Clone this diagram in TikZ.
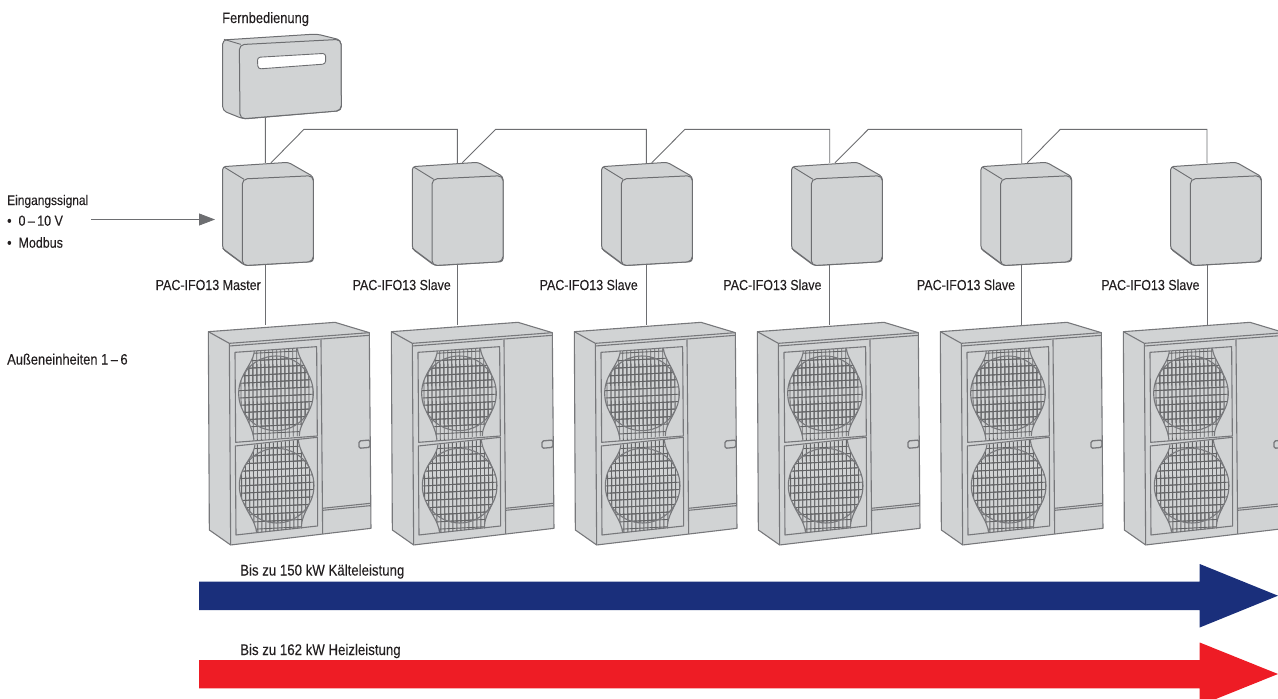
\documentclass[tikz,border=0pt]{standalone}
\usepackage{fontspec}
\setmainfont[FakeStretch=0.86,FakeBold=0.12]{Liberation Sans}
\usetikzlibrary{arrows.meta}
\definecolor{bodygrey}{HTML}{D1D3D4}
\definecolor{edgegrey}{HTML}{6D6E71}
\definecolor{unitgrey}{HTML}{77787B}
\definecolor{meshgrey}{HTML}{636466}
\definecolor{lab}{HTML}{231F20}
\definecolor{coolblue}{HTML}{1A2F7B}
\definecolor{heatred}{HTML}{EE1C25}
\tikzset{
  body/.style={draw=edgegrey,fill=bodygrey,line width=1pt,line join=round},
  edge/.style={draw=edgegrey,line width=.9pt,line join=round},
  uedge/.style={draw=unitgrey,line width=1.1pt,line join=round},
  mesh/.style={draw=meshgrey,line width=.9pt},
  link/.style={draw=edgegrey,line width=.9pt,line join=miter},
  lbl/.style={inner sep=0pt,text=lab,font=\fontsize{14.5}{17}\selectfont},
  lblsmall/.style={lbl,font=\fontsize{13.9}{17}\selectfont},
  lblbig/.style={lbl,font=\fontsize{15}{17}\selectfont},
  lblbis/.style={lbl,font=\fontsize{15.4}{17}\selectfont},
}
\newcommand{\fanmesh}{%
  \foreach \vx in {140,152,...,400} {\draw[mesh] (\vx,100) -- (\vx+4,700);}
  \foreach \hy in {105,127,...,700} {\draw[mesh] (130,\hy+6) -- (400,\hy-8);}
}
\newcommand{\fan}[2]{% centre x, centre y
  \begin{scope}\clip (#1,#2) circle[radius=112]; \fanmesh \end{scope}
  \draw[uedge] (#1,#2) circle[radius=112];
}
\newcommand{\outdoor}{%
  \fill[bodygrey] (55,65) -- (435,37) -- (538,68) -- (543,655) -- (122,705) -- (58,660) -- cycle;
  \draw[uedge] (55,65) -- (435,37) -- (538,68) -- (543,655) -- (122,705) -- (58,660) -- cycle;
  \draw[uedge] (55,65) -- (118,100) -- (122,705);
  \draw[uedge] (118,100) -- (538,68);
  \draw[uedge] (118,108) -- (538,76);
  \draw[uedge] (393,90) -- (398,672);
  \draw[uedge] (397,595) -- (541,580);
  \draw[uedge] (398,601) -- (541,587);
  \draw[uedge,rounded corners=1.5pt,line width=1.3pt] (540,390) -- (507,393) -- (507,415) -- (540,412) -- cycle;
  % panels
  \draw[uedge] (135,127) -- (380,110) -- (382,378) -- (137,397) -- cycle;
  \draw[uedge] (136,408) -- (382,382) -- (383,648) -- (138,675) -- cycle;
  % upper fan flare
  \begin{scope}
    \clip (193,124) -- (322,115) .. controls (326,145) and (345,165) .. (356,196) -- (356,304) .. controls (345,330) and (328,350) .. (328,378) -- (192,392) .. controls (190,360) and (172,330) .. (160,304) -- (160,196) .. controls (172,170) and (190,150) .. (193,124) -- cycle;
    \fanmesh
  \end{scope}
  \draw[uedge] (322,115) .. controls (326,145) and (345,165) .. (356,196);
  \draw[uedge] (193,124) .. controls (190,150) and (172,170) .. (160,196);
  \draw[uedge] (160,304) .. controls (172,330) and (190,360) .. (192,392);
  \draw[uedge] (356,304) .. controls (345,330) and (328,350) .. (328,378);
  \fan{258}{250}
  % lower fan flare
  \begin{scope}
    \clip (195,404) -- (325,390) .. controls (328,420) and (347,445) .. (358,473) -- (358,581) .. controls (347,605) and (332,630) .. (335,655) -- (200,668) .. controls (196,635) and (174,610) .. (162,581) -- (162,473) .. controls (174,450) and (192,430) .. (195,404) -- cycle;
    \fanmesh
  \end{scope}
  \draw[uedge] (325,390) .. controls (328,420) and (347,445) .. (358,473);
  \draw[uedge] (195,404) .. controls (192,430) and (174,450) .. (162,473);
  \draw[uedge] (162,581) .. controls (174,610) and (196,635) .. (200,668);
  \draw[uedge] (358,581) .. controls (347,605) and (332,630) .. (335,655);
  \fan{260}{527}
}
\newcommand{\ifbox}{%
  \draw[body,rounded corners=3pt] (68,440) -- (265,427) -- (340,470) -- (340,725) -- (135,737) -- (68,687) -- cycle;
  \draw[edge] (72,441) -- (132,478);
  \draw[edge] (68,685) -- (128,730);
  \draw[body,rounded corners=5pt] (127,477) -- (340,467) -- (340,725) -- (127,737) -- cycle;
}
\begin{document}
\begin{tikzpicture}[x=1pt,y=-1pt]
\useasboundingbox (0,0) rectangle (1278,699);
\clip (0,0) rectangle (1278,699);
% remote control
\begin{scope}[shift={(200,20)},x=.3333pt,y=-.3333pt]
  \draw[body,rounded corners=4pt] (68,60) -- (350,42) -- (423,60) -- (424,272) -- (130,297) -- (68,272) -- cycle;
  \draw[edge] (72,58) -- (122,73);
  \draw[body,rounded corners=5pt] (118,74) -- (423,58) -- (424,272) -- (120,297) -- cycle;
  \draw[edge,fill=white,rounded corners=3pt] (172,112) -- (377,100) -- (377,132) -- (174,147) -- cycle;
  \coordinate (remotebottom) at (196,292);
\end{scope}
% interface boxes and outdoor units
\foreach \n/\off/\lx/\dx/\ux in {1/0/265.3/271/0,2/189.7/457.3/462.3/183,3/379/646.3/651.7/366,4/569/829.7/835/549,5/758.3/1021.7/1027.3/732,6/948/1207/1212/915} {
  \begin{scope}[shift={(200+\off,20)},x=.3333pt,y=-.3333pt]
    \ifbox
  \end{scope}
  \coordinate (boxtop\n) at (\lx,162.8);
  \coordinate (boxdiag\n) at (\dx,162.8);
  \coordinate (boxbot\n) at (\lx,264.5);
  \coordinate (unittop\n) at (\lx,324.5);
  \coordinate (bus\n) at (\lx,129.3);
  \begin{scope}[shift={(190+\ux,310)},x=.3333pt,y=-.3333pt]
    \outdoor
  \end{scope}
  \draw[link] (boxbot\n) -- (unittop\n);
}
% bus
\coordinate (knee1) at (304,129.3);
\coordinate (knee2) at (495.7,129.3);
\coordinate (knee3) at (685,129.3);
\coordinate (knee4) at (868.3,129.3);
\coordinate (knee5) at (1060.3,129.3);
\draw[link] (remotebottom) -- (boxtop1);
\foreach \a/\b in {1/2,2/3,3/4,4/5,5/6}
  \draw[link] (boxdiag\a) -- (knee\a) -- (bus\b) -- (boxtop\b);
% input arrow
\coordinate (inputstart) at (91,219.5);
\coordinate (inputend) at (215,219.5);
\draw[edgegrey,line width=.9pt,-{Triangle[length=16pt,width=12pt]}] (inputstart) -- (inputend);
% capacity arrows
\fill[coolblue] (199,581.5) -- (1199.7,581.5) -- (1199.7,564) -- (1278,595.7) -- (1199.7,627.5) -- (1199.7,610) -- (199,610) -- cycle;
\fill[heatred] (199,660) -- (1199.7,660) -- (1199.7,642.5) -- (1278,674) -- (1199.7,705.5) -- (1199.7,688.3) -- (199,688.3) -- cycle;
% labels
\node[lblbig,anchor=base west] (tremote) at (222,23) {Fernbedienung};
\node[lblsmall,anchor=base west] (tinput) at (7,205) {Eingangssignal};
\node[lbl,anchor=base west] (tin1) at (7,225.7) {•\hspace{7pt}0\,–\,10 V};
\node[lbl,anchor=base west] (tin2) at (7,247.7) {•\hspace{7pt}Modbus};
\node[lbl,anchor=base east] (tm) at (261,290) {PAC-IFO13 Master};
\node[lbl,anchor=base east] (ts2) at (451,290) {PAC-IFO13 Slave};
\node[lbl,anchor=base east] (ts3) at (638,290) {PAC-IFO13 Slave};
\node[lbl,anchor=base east] (ts4) at (821.7,290) {PAC-IFO13 Slave};
\node[lbl,anchor=base east] (ts5) at (1015.3,290) {PAC-IFO13 Slave};
\node[lbl,anchor=base east] (ts6) at (1199.7,290) {PAC-IFO13 Slave};
\node[lblbig,anchor=base west] (tout) at (7,364.5) {Außeneinheiten 1\,–\,6};
\node[lblbis,anchor=base west] (tcool) at (240,575.5) {Bis zu 150 kW Kälteleistung};
\node[lblbis,anchor=base west] (theat) at (240,655) {Bis zu 162 kW Heizleistung};
\end{tikzpicture}
\end{document}
